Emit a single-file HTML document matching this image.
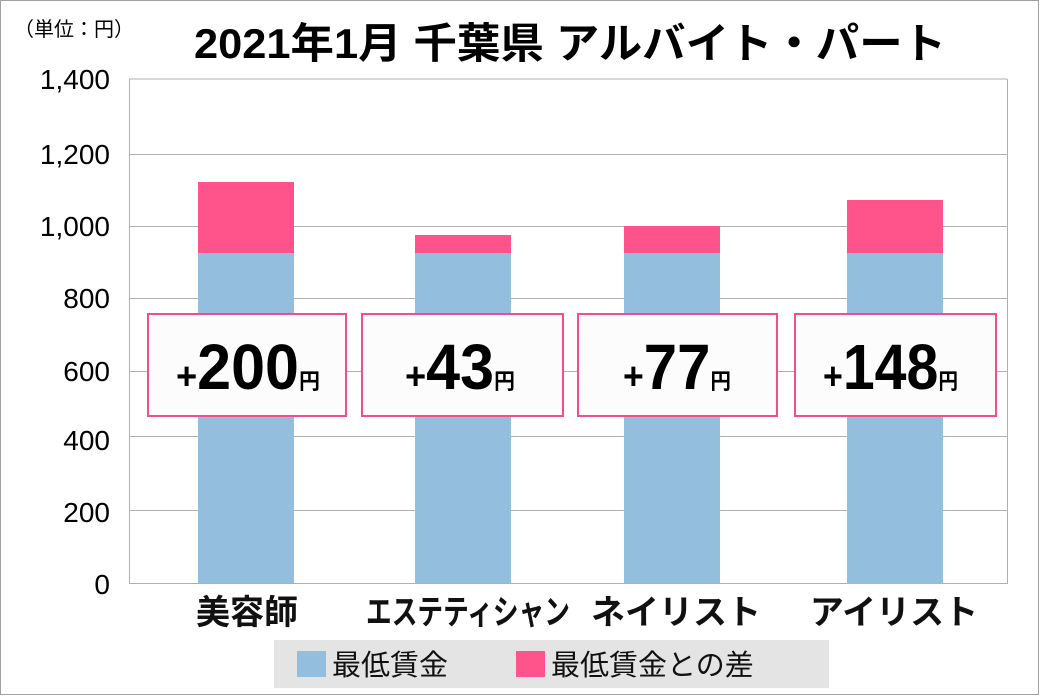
<!DOCTYPE html>
<html><head><meta charset="utf-8"><style>
body{margin:0;background:#fff}
svg{display:block}
text{font-family:"Liberation Sans","Noto Sans CJK JP",sans-serif}
</style></head><body>
<svg width="1040" height="696" viewBox="0 0 1040 696">
<rect x="0.5" y="0.5" width="1038" height="694" fill="#fff" stroke="#a0a0a0"/>
<text x="14" y="36" font-size="20" fill="#000">（単位：円）</text>
<text x="570" y="58" font-size="42" font-weight="bold" text-anchor="middle" textLength="752" lengthAdjust="spacingAndGlyphs">2021年1月 千葉県 アルバイト・パート</text>
<g stroke="#b0b0b0" stroke-width="1">
<line x1="129" y1="79" x2="1007" y2="79"/>
<line x1="129" y1="154.5" x2="1007" y2="154.5"/>
<line x1="129" y1="226.5" x2="1007" y2="226.5"/>
<line x1="129" y1="298.5" x2="1007" y2="298.5"/>
<line x1="129" y1="371.5" x2="1007" y2="371.5"/>
<line x1="129" y1="436.5" x2="1007" y2="436.5"/>
<line x1="129" y1="510.5" x2="1007" y2="510.5"/>
<line x1="129" y1="583.5" x2="1007" y2="583.5"/>
<line x1="129.5" y1="79" x2="129.5" y2="584"/>
<line x1="1007.5" y1="79" x2="1007.5" y2="584"/>
</g>
<g font-size="28" text-anchor="end" fill="#000">
<text x="110" y="89">1,400</text>
<text x="110" y="164">1,200</text>
<text x="110" y="236">1,000</text>
<text x="110" y="308">800</text>
<text x="110" y="381">600</text>
<text x="110" y="450">400</text>
<text x="110" y="522">200</text>
<text x="110" y="594">0</text>
</g>
<g fill="#93bedd">
<rect x="198" y="253" width="96" height="330"/>
<rect x="415" y="253" width="96" height="330"/>
<rect x="624" y="253" width="96" height="330"/>
<rect x="847" y="253" width="96" height="331"/>
</g>
<g fill="#fe548b">
<rect x="198" y="182" width="96" height="71"/>
<rect x="415" y="235" width="96" height="18"/>
<rect x="624" y="226" width="96" height="27"/>
<rect x="847" y="200" width="96" height="53"/>
</g>
<g fill="#fcfcfc" stroke="#f0508a" stroke-width="2">
<rect x="148" y="314" width="198" height="102"/>
<rect x="362" y="314" width="201" height="102"/>
<rect x="578" y="314" width="199" height="102"/>
<rect x="795" y="314" width="201" height="102"/>
</g>
<g font-weight="bold" fill="#000">
<text x="176" y="389" textLength="144" lengthAdjust="spacingAndGlyphs"><tspan font-size="38">+</tspan><tspan font-size="64">200</tspan><tspan font-size="22">円</tspan></text>
<text x="405" y="389" textLength="110" lengthAdjust="spacingAndGlyphs"><tspan font-size="38">+</tspan><tspan font-size="64">43</tspan><tspan font-size="22">円</tspan></text>
<text x="623" y="389" textLength="108" lengthAdjust="spacingAndGlyphs"><tspan font-size="38">+</tspan><tspan font-size="64">77</tspan><tspan font-size="22">円</tspan></text>
<text x="823" y="389" textLength="135" lengthAdjust="spacingAndGlyphs"><tspan font-size="38">+</tspan><tspan font-size="64">148</tspan><tspan font-size="22">円</tspan></text>
</g>
<g font-size="34" font-weight="bold" text-anchor="middle" fill="#111">
<text x="247" y="624">美容師</text>
<text x="468" y="624" textLength="204" lengthAdjust="spacingAndGlyphs">エステティシャン</text>
<text x="676" y="624">ネイリスト</text>
<text x="894" y="624">アイリスト</text>
</g>
<rect x="274" y="640" width="555" height="48" fill="#e4e4e4"/>
<rect x="297" y="651" width="29" height="26" fill="#93bedd"/>
<text x="332" y="675" font-size="29" fill="#111">最低賃金</text>
<rect x="516" y="651" width="29" height="26" fill="#fe548b"/>
<text x="551" y="675" font-size="29" fill="#111">最低賃金との差</text>
</svg>
</body></html>
